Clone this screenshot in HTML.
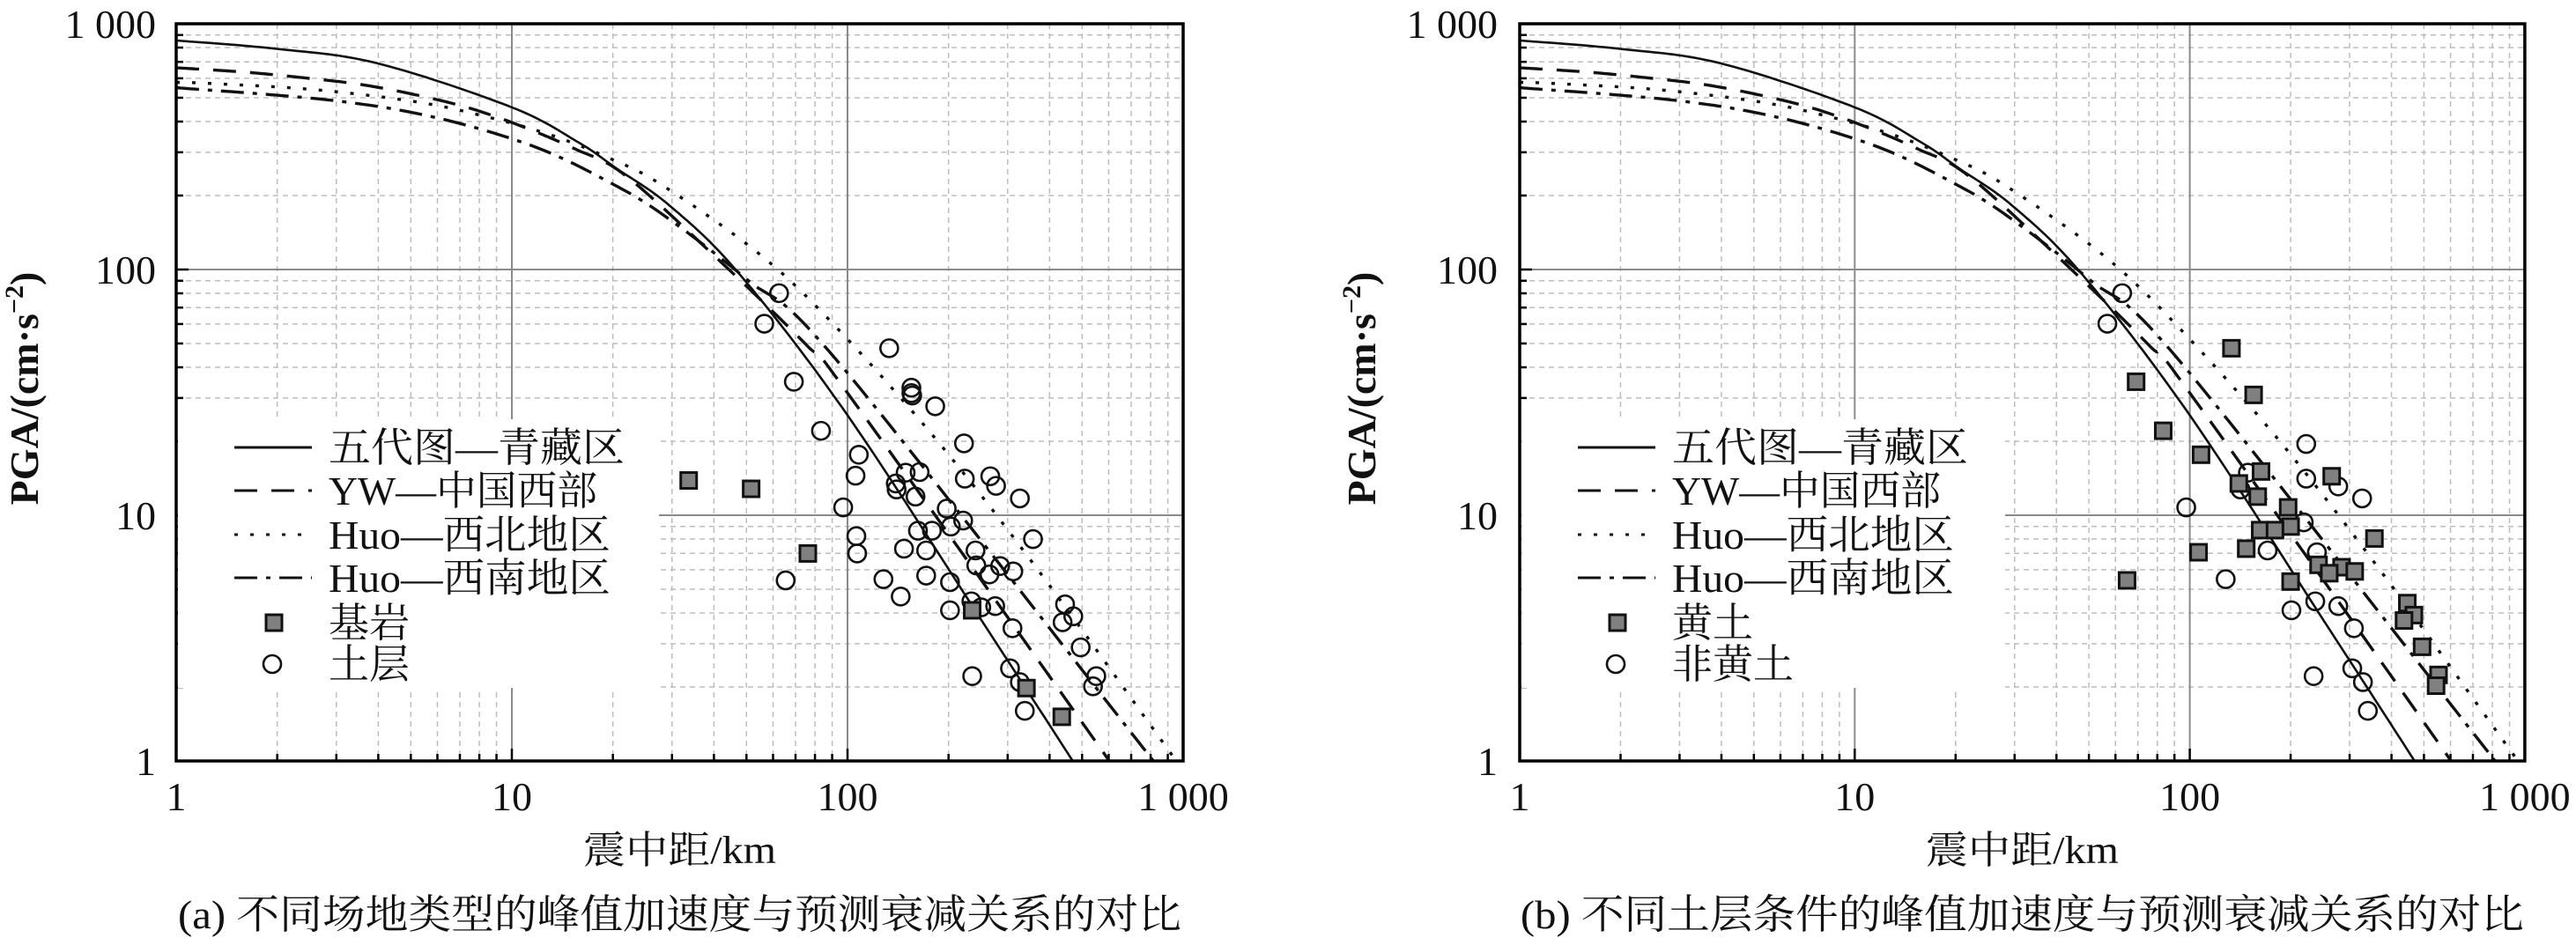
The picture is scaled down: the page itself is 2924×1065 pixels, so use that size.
<!DOCTYPE html>
<html><head><meta charset="utf-8">
<style>
html,body{margin:0;padding:0;background:#fff;}
svg{display:block;}
text{font-family:"Liberation Serif","Noto Serif CJK SC",serif;fill:#111;}
</style></head>
<body>
<svg id="s" width="2924" height="1065" viewBox="0 0 2924 1065" xmlns="http://www.w3.org/2000/svg"></svg>
<script>
const S=document.getElementById('s');
let h='';
const Y0=27,DY=279,YB=864;
const curves={
 solid:[[0,2.932],[0.3,2.898],[0.6,2.839],[1.0,2.66],[1.2,2.516],[1.312,2.411],[1.47,2.26],[1.677,1.983],[2.0,1.407],[2.417,0.535],[2.671,0],[2.8,-0.28]],
 yw:[[0,2.821],[0.206,2.803],[0.375,2.781],[0.544,2.754],[0.71,2.712],[0.876,2.656],[1.031,2.582],[1.186,2.492],[1.336,2.385],[1.6,2.06],[1.876,1.695],[2.0,1.498],[2.78,0],[2.9,-0.25]],
 nw:[[0,2.762],[0.103,2.757],[0.412,2.732],[0.712,2.683],[0.909,2.627],[1.106,2.552],[1.289,2.454],[1.448,2.343],[1.743,2.057],[1.975,1.753],[2.274,1.292],[2.583,0.749],[2.953,0.05],[3.05,-0.13]],
 sw:[[0,2.74],[0.047,2.735],[0.258,2.714],[0.473,2.687],[0.684,2.644],[0.892,2.577],[1.097,2.484],[1.284,2.36],[1.444,2.229],[1.7,1.96],[1.969,1.629],[2.859,0.091],[2.91,0],[3.05,-0.25]]
};
const styles={solid:'',yw:'stroke-dasharray="26 16"',nw:'stroke-dasharray="4 14"',sw:'stroke-dasharray="26 10 5 10"'};
function cr(pts){
 const out=[];
 for(let i=0;i<pts.length-1;i++){
  const p0=pts[Math.max(0,i-1)],p1=pts[i],p2=pts[i+1],p3=pts[Math.min(pts.length-1,i+2)];
  for(let t=0;t<1;t+=0.05){
   const t2=t*t,t3=t2*t;
   const f=k=>0.5*((2*p1[k])+(-p0[k]+p2[k])*t+(2*p0[k]-5*p1[k]+4*p2[k]-p3[k])*t2+(-p0[k]+3*p1[k]-3*p2[k]+p3[k])*t3);
   out.push([f(0),f(1)]);
  }
 }
 out.push(pts[pts.length-1]);return out;
}
function panel(id,X0,DX,dOff,caption,legw,leg5,leg6,sq,ci,ylx,ytr){
 const XR=X0+3*DX;
 const px=l=>X0+l*DX, py=l=>Y0+(3-l)*DY;
 h+=`<clipPath id="c${id}"><rect x="${X0}" y="${Y0}" width="${XR-X0}" height="${YB-Y0}"/></clipPath>`;
 for(let d=0;d<3;d++){for(let m=2;m<=9;m++){
  const x=px(d+Math.log10(m)),y=py(d+Math.log10(m));
  h+=`<line x1="${x}" y1="${Y0}" x2="${x}" y2="${YB}" stroke="#bdbdbd" stroke-width="1.5" stroke-dasharray="6 5"/>`;
  h+=`<line x1="${X0}" y1="${y}" x2="${XR}" y2="${y}" stroke="#bdbdbd" stroke-width="1.5" stroke-dasharray="6 5"/>`;
  h+=`<line x1="${x}" y1="${YB}" x2="${x}" y2="${YB-8}" stroke="#000" stroke-width="2.5"/>`;
  h+=`<line x1="${X0}" y1="${y}" x2="${X0+8}" y2="${y}" stroke="#000" stroke-width="2.5"/>`;
 }}
 for(let d=1;d<3;d++){
  h+=`<line x1="${px(d)}" y1="${Y0}" x2="${px(d)}" y2="${YB}" stroke="#8a8a8a" stroke-width="2"/>`;
  h+=`<line x1="${X0}" y1="${py(d)}" x2="${XR}" y2="${py(d)}" stroke="#8a8a8a" stroke-width="2"/>`;
  h+=`<line x1="${px(d)}" y1="${YB}" x2="${px(d)}" y2="${YB-14}" stroke="#000" stroke-width="2.5"/>`;
  h+=`<line x1="${X0}" y1="${py(d)}" x2="${X0+14}" y2="${py(d)}" stroke="#000" stroke-width="2.5"/>`;
 }
 h+=`<rect x="${X0+2}" y="476" width="${legw}" height="305" fill="#fff"/>`;
 for(const k in curves){
  const p=cr(curves[k]).map(q=>`${px(q[0]).toFixed(1)},${py(q[1]).toFixed(1)}`).join(' ');
  h+=`<polyline clip-path="url(#c${id})" points="${p}" fill="none" stroke="#111" stroke-width="${k=='solid'?2.6:3.4}" ${styles[k]}/>`;
 }
 const cx=dx=>dOff+dx/1.072, cy=dy=>dy/1.472;
 for(const c of ci) h+=`<ellipse cx="${cx(c[0])}" cy="${cy(c[1])}" rx="10" ry="10" fill="none" stroke="#111" stroke-width="2.6"/>`;
 for(const s of sq) h+=`<rect x="${cx(s[0])-9}" y="${cy(s[1])-9}" width="18" height="18" fill="#808080" stroke="#111" stroke-width="3"/>`;
 h+=`<rect x="${X0}" y="${Y0}" width="${XR-X0}" height="${YB-Y0}" fill="none" stroke="#000" stroke-width="3.5"/>`;
 const L1=X0+66,L2=X0+154,T=X0+173;
 const rows=[508,557,607,656];
 const names=['五代图—青藏区','YW—中国西部','Huo—西北地区','Huo—西南地区'];
 const ks=['solid','yw','nw','sw'];
 const tl=[336,305,320,320];
 rows.forEach((y,i)=>{
  h+=`<line x1="${L1}" y1="${y}" x2="${L2}" y2="${y}" stroke="#111" stroke-width="3" ${styles[ks[i]]}/>`;
  h+=`<text x="${T}" y="${y+16}" font-size="46" textLength="${tl[i]}" lengthAdjust="spacingAndGlyphs">${names[i]}</text>`;
 });
 h+=`<rect x="${X0+102}" y="${707-9}" width="18" height="18" fill="#808080" stroke="#111" stroke-width="3"/>`;
 h+=`<text x="${T}" y="${707+16}" font-size="46">${leg5}</text>`;
 h+=`<ellipse cx="${X0+109}" cy="754" rx="10" ry="10" fill="none" stroke="#111" stroke-width="2.6"/>`;
 h+=`<text x="${T}" y="${754+16}" font-size="46">${leg6}</text>`;
 const yl=[[3,'1 000'],[2,'100'],[1,'10'],[0,'1']];
 yl.forEach(v=>{h+=`<text x="${ytr}" y="${py(v[0])+16}" font-size="46" text-anchor="end">${v[1]}</text>`;});
 const xl=[[0,'1'],[1,'10'],[2,'100'],[3,'1 000']];
 xl.forEach(v=>{h+=`<text x="${px(v[0])}" y="920" font-size="46" text-anchor="middle">${v[1]}</text>`;});
 const mid=(X0+XR)/2;
 h+=`<text x="${mid}" y="980" font-size="44" text-anchor="middle" textLength="219" lengthAdjust="spacingAndGlyphs">震中距/km</text>`;
 h+=`<text x="${mid}" y="1054" font-size="46" text-anchor="middle" textLength="1139" lengthAdjust="spacingAndGlyphs">${caption}</text>`;
 h+=`<text transform="translate(${ylx+15},441) rotate(-90)" font-size="46" font-weight="bold" text-anchor="middle">PGA/(cm·s<tspan font-size="30" dy="-17">−2</tspan><tspan dy="17">)</tspan></text>`;
}
const ciA=[[948,490],[930,541],[966,638],[999,720],[1082,582],[1109,648],[1109,657],[1110,661],[1138,679],[1045,760],[1041,795],[1026,848],[1042,896],[1043,925],[956,970],[1090,808],[1091,818],[1102,790],[1119,789],[1114,830],[1173,741],[1174,800],[1205,796],[1212,812],[1241,833],[1152,850],[1157,880],[1172,870],[1117,887],[1134,887],[1100,917],[1127,920],[1127,962],[1187,920],[1188,945],[1217,946],[1233,955],[1204,960],[1156,973],[1075,968],[1096,997],[1156,1020],[1182,1005],[1194,1015],[1211,1013],[1257,901],[1232,1050],[1296,1010],[1293,1040],[1306,1030],[1315,1082],[1229,1117],[1241,1140],[1183,1130],[1247,1188],[1334,1130],[1330,1147]];
const sqA=[[838,803],[914,817],[983,925],[1183,1020],[1249,1150],[1292,1198]];
const sqB=[[1148,582],[1032,638],[1175,660],[1065,720],[1111,760],[1184,788],[1157,808],[1180,830],[1270,796],[1217,848],[1220,880],[1183,886],[1201,886],[1108,923],[1166,917],[1322,900],[1254,944],[1282,948],[1298,955],[1267,958],[1021,970],[1220,972],[1362,1008],[1370,1028],[1358,1037],[1380,1081],[1400,1128],[1397,1146]];
const ciB=[[1015,490],[997,541],[1093,848],[1239,742],[1239,800],[1278,813],[1307,833],[1168,790],[1159,818],[1236,873],[1192,920],[1252,923],[1141,968],[1250,1005],[1278,1013],[1297,1050],[1221,1020],[1295,1117],[1308,1140],[1248,1130],[1314,1188]];
panel('a',200,381,0,'(a) 不同场地类型的峰值加速度与预测衰减关系的对比',546,'基岩','土层',sqA,ciA,28,177);
panel('b',1725,380.3,1462,'(b) 不同土层条件的峰值加速度与预测衰减关系的对比',549,'黄土','非黄土',sqB,ciB,1546,1700);
S.innerHTML=h;
</script>
</body></html>
